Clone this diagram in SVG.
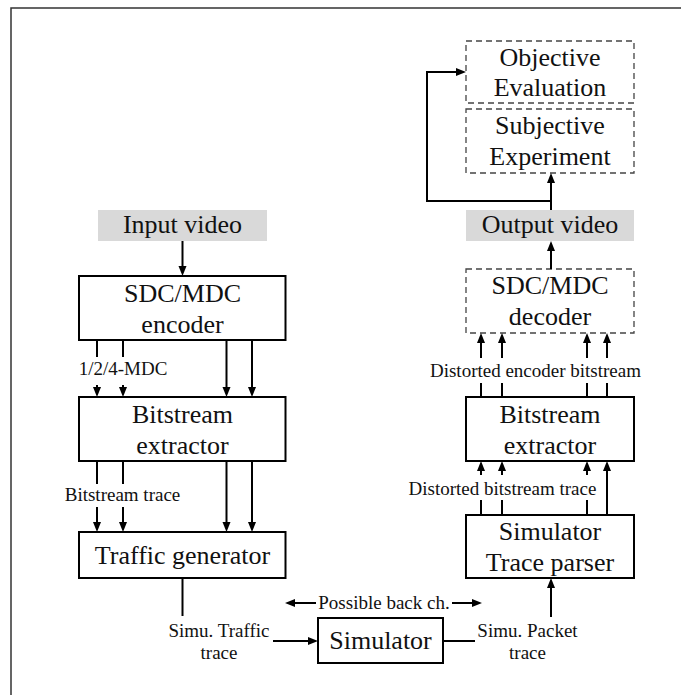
<svg xmlns="http://www.w3.org/2000/svg" width="681" height="695" viewBox="0 0 681 695">
<defs>
<marker id="ah" markerUnits="userSpaceOnUse" markerWidth="11" markerHeight="9" refX="6.5" refY="4" orient="auto">
<path d="M0,0 L10,4 L0,8 z" fill="#000"/>
</marker>
<style>
.box{fill:#fff;stroke:#000;stroke-width:2}
.dbox{fill:#fff;stroke:#444;stroke-width:1.3;stroke-dasharray:6 4}
.gbox{fill:#d9d9d9;stroke:none}
.bt{font-family:"Liberation Serif","Times New Roman",serif;font-size:26px;fill:#111;text-anchor:middle}
.st{font-family:"Liberation Serif","Times New Roman",serif;font-size:19px;fill:#111;text-anchor:middle}
.ln{fill:none;stroke:#000;stroke-width:2}
.ar{fill:none;stroke:#000;stroke-width:2;marker-end:url(#ah)}
</style>
</defs>
<rect width="681" height="695" fill="#fff"/>
<path d="M11,695 V8 H681" fill="none" stroke="#333" stroke-width="1.5"/>

<g id="input_video"><rect class="gbox" x="98" y="210" width="169" height="31"/><text class="bt" x="182.5" y="233">Input video</text></g>
<g id="encoder"><rect class="box" x="79" y="276" width="206.5" height="64"/><text class="bt" x="182.5" y="302">SDC/MDC</text><text class="bt" x="182.5" y="333">encoder</text></g>
<g id="extractor_left"><rect class="box" x="79" y="397" width="206.5" height="64"/><text class="bt" x="182.5" y="423">Bitstream</text><text class="bt" x="182.5" y="454">extractor</text></g>
<g id="traffic_generator"><rect class="box" x="79" y="532" width="206.5" height="46"/><text class="bt" x="182.5" y="564">Traffic generator</text></g>
<g id="objective"><rect class="dbox" x="466" y="41" width="168" height="62"/><text class="bt" x="550" y="66">Objective</text><text class="bt" x="550" y="96">Evaluation</text></g>
<g id="subjective"><rect class="dbox" x="466" y="109" width="168" height="64"/><text class="bt" x="550" y="134">Subjective</text><text class="bt" x="550" y="165">Experiment</text></g>
<g id="output_video"><rect class="gbox" x="466" y="210" width="168" height="31"/><text class="bt" x="550" y="233">Output video</text></g>
<g id="decoder"><rect class="dbox" x="466" y="269" width="168" height="64"/><text class="bt" x="550" y="294">SDC/MDC</text><text class="bt" x="550" y="325">decoder</text></g>
<g id="extractor_right"><rect class="box" x="466" y="397" width="168" height="64"/><text class="bt" x="550" y="423">Bitstream</text><text class="bt" x="550" y="454">extractor</text></g>
<g id="trace_parser"><rect class="box" x="466" y="515" width="168" height="63"/><text class="bt" x="550" y="540">Simulator</text><text class="bt" x="550" y="571">Trace parser</text></g>
<g id="simulator"><rect class="box" x="318" y="618" width="125" height="45"/><text class="bt" x="380.5" y="649">Simulator</text></g>

<g id="connectors">
<path class="ar" d="M182.5,241 V272.5"/>
<path class="ln" d="M97,340 V357 M123,340 V357"/>
<path class="ar" d="M97,385 V393.5"/>
<path class="ar" d="M123,385 V393.5"/>
<path class="ar" d="M226.5,340 V393.5"/>
<path class="ar" d="M252,340 V393.5"/>
<path class="ln" d="M97,461 V484 M123,461 V484"/>
<path class="ar" d="M97,507 V528.5"/>
<path class="ar" d="M123,507 V528.5"/>
<path class="ar" d="M226.5,461 V528.5"/>
<path class="ar" d="M252,461 V528.5"/>
<path class="ln" d="M182.5,578 V616"/>
<path class="ar" d="M273,641 H314.5"/>
<path class="ln" d="M443,641 H475"/>
<path class="ar" d="M316,603 H288.5"/>
<path class="ar" d="M452,603 H478.5"/>
<path class="ar" d="M551,617 V581.5"/>
<path class="ln" d="M481,515 V500 M502,515 V500 M587,515 V500"/>
<path class="ar" d="M481,475 V464.5"/>
<path class="ar" d="M502,475 V464.5"/>
<path class="ar" d="M587,475 V464.5"/>
<path class="ar" d="M607,515 V464.5"/>
<path class="ln" d="M481,397 V383 M502,397 V383 M587,397 V383 M607,397 V383"/>
<path class="ar" d="M481,358 V336.5"/>
<path class="ar" d="M502,358 V336.5"/>
<path class="ar" d="M587,358 V336.5"/>
<path class="ar" d="M607,358 V336.5"/>
<path class="ar" d="M551,269 V244.5"/>
<path class="ar" d="M551,210 V176.5"/>
<path class="ar" d="M551,201 H427 V72 H462.5"/>
<text class="st" x="123" y="375">1/2/4-MDC</text>
<text class="st" x="122.5" y="501">Bitstream trace</text>
<text class="st" x="384" y="609">Possible back ch.</text>
<text class="st" x="219" y="637">Simu. Traffic</text>
<text class="st" x="219" y="659">trace</text>
<text class="st" x="527.5" y="637">Simu. Packet</text>
<text class="st" x="527.5" y="659">trace</text>
<text class="st" x="502.5" y="495">Distorted bitstream trace</text>
<text class="st" x="535.5" y="377">Distorted encoder bitstream</text>
</g>
</svg>
